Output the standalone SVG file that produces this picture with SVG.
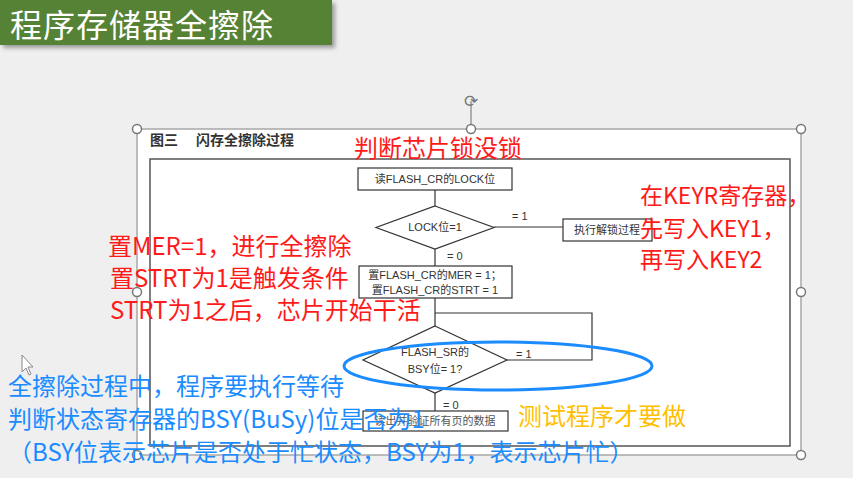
<svg xmlns="http://www.w3.org/2000/svg" width="853" height="478" viewBox="0 0 853 478">
<defs>
<style>
.fc{font-family:"Liberation Sans","Noto Sans CJK SC",sans-serif;font-size:11px;fill:#333;}
.box{fill:#fff;stroke:#333;stroke-width:1.2;}
.ln{fill:none;stroke:#333;stroke-width:1.2;}
.red{font-family:"Noto Sans CJK SC",sans-serif;fill:#ff1a1a;}
.blue{font-family:"Noto Sans CJK SC",sans-serif;fill:#1a8cff;font-size:24px;}
.hdl{fill:#fff;stroke:#777;stroke-width:1.5;}
</style>
<filter id="sh" x="-5%" y="-10%" width="115%" height="130%"><feDropShadow dx="3" dy="3" stdDeviation="2" flood-color="#000" flood-opacity="0.35"/></filter>
</defs>
<rect width="853" height="478" fill="#efefef"/>
<g id="title">
<rect x="0" y="0" width="332" height="45" fill="#548235" filter="url(#sh)"/>
<text x="10" y="37" font-family="Noto Sans CJK SC,sans-serif" font-size="32" letter-spacing="1" fill="#fff">程序存储器全擦除</text>
</g>
<g id="frame">
<rect x="137" y="129" width="664" height="326" fill="#fff" stroke="#a8a8a8" stroke-width="1.5"/>
<rect x="150" y="159" width="640" height="287" fill="none" stroke="#555" stroke-width="1.5"/>
<text x="150" y="145" font-family="Liberation Sans,Noto Sans CJK SC,sans-serif" font-size="14" font-weight="bold" fill="#333">图三　 闪存全擦除过程</text>
<line x1="471" y1="101" x2="471" y2="129" stroke="#999" stroke-width="1.5"/>
<text x="471" y="107" text-anchor="middle" font-family="DejaVu Sans,sans-serif" font-size="17" fill="#777">⟳</text>
<circle class="hdl" cx="137" cy="129" r="4.5"/><circle class="hdl" cx="471" cy="129" r="4.5"/><circle class="hdl" cx="801" cy="129" r="4.5"/>
<circle class="hdl" cx="137" cy="292" r="4.5"/><circle class="hdl" cx="801" cy="292" r="4.5"/>
<circle class="hdl" cx="137" cy="455" r="4.5"/><circle class="hdl" cx="801" cy="455" r="4.5"/>
</g>
<g id="connectors">
<line class="ln" x1="435" y1="190" x2="435" y2="206"/>
<line class="ln" x1="494" y1="227" x2="563" y2="227"/>
<line class="ln" x1="435" y1="249" x2="435" y2="266"/>
<line class="ln" x1="435" y1="298" x2="435" y2="326"/>
<polyline class="ln" points="435,313 592,313 592,360 507,360"/>
<line class="ln" x1="435" y1="393" x2="435" y2="411"/>
<text class="fc" x="512" y="220">= 1</text>
<text class="fc" x="447" y="260">= 0</text>
<text class="fc" x="516" y="358">= 1</text>
<text class="fc" x="443" y="409">= 0</text>
</g>
<g id="n1"><rect class="box" x="358" y="168" width="154" height="22"/><text class="fc" x="435" y="183" text-anchor="middle">读FLASH_CR的LOCK位</text></g>
<g id="n2"><polygon class="box" points="435,206 494,227.5 435,249 376,227.5"/><text class="fc" x="435" y="231" text-anchor="middle">LOCK位=1</text></g>
<g id="n3"><rect class="box" x="563" y="219" width="89" height="22"/><text class="fc" x="607" y="234" text-anchor="middle">执行解锁过程</text></g>
<g id="n4"><rect class="box" x="359" y="266" width="153" height="32"/><text class="fc" x="435" y="279" text-anchor="middle">置FLASH_CR的MER = 1；</text><text class="fc" x="435" y="294" text-anchor="middle">置FLASH_CR的STRT = 1</text></g>
<g id="n5"><polygon class="box" points="435,326 507,360 435,393 363,360"/><text class="fc" x="435" y="356" text-anchor="middle">FLASH_SR的</text><text class="fc" x="435" y="373" text-anchor="middle">BSY位= 1?</text></g>
<g id="n6"><rect class="box" x="363" y="411" width="145" height="20"/><text x="435" y="425" text-anchor="middle" font-family="Liberation Serif,Noto Sans CJK SC,serif" font-size="11" fill="#555">读出并验证所有页的数据</text></g>
<g id="ellipse"><ellipse cx="498" cy="366" rx="154" ry="24" fill="none" stroke="#1a8cff" stroke-width="3"/></g>
<g id="notes">
<text class="red" x="354" y="157" font-size="24">判断芯片锁没锁</text>
<text class="red" x="108" y="255" font-size="24">置MER=1，进行全擦除</text>
<text class="red" x="110" y="287" font-size="24">置STRT为1是触发条件</text>
<text class="red" x="110" y="319" font-size="24">STRT为1之后，芯片开始干活</text>
<text class="red" x="640" y="204" font-size="23">在KEYR寄存器，</text>
<text class="red" x="640" y="237" font-size="23">先写入KEY1，</text>
<text class="red" x="640" y="268" font-size="23">再写入KEY2</text>
<text class="blue" x="8" y="395">全擦除过程中，程序要执行等待</text>
<text class="blue" x="8" y="428">判断状态寄存器的BSY(BuSy)位是否为1</text>
<text class="blue" x="8" y="461">（BSY位表示芯片是否处于忙状态，BSY为1，表示芯片忙）</text>
<text x="518" y="425" font-family="Noto Sans CJK SC,sans-serif" font-size="24" fill="#ffbf00">测试程序才要做</text>
</g>
<g id="cursor"><polygon points="22,355 22,372 26,368 29,375 31,374 28,367 33,367" fill="#fff" stroke="#888" stroke-width="1"/></g>
</svg>
